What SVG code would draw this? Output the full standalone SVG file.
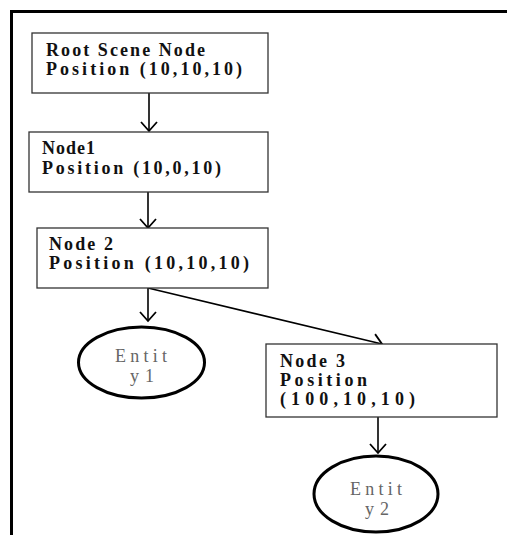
<svg xmlns="http://www.w3.org/2000/svg" width="507" height="535" viewBox="0 0 507 535">
<defs>
<style>
.box{fill:#fff;stroke:#333;stroke-width:1.3}
.ell{fill:#fff;stroke:#000;stroke-width:3}
.t{font-family:"Liberation Serif","DejaVu Serif",serif;font-weight:bold;font-size:18px;fill:#111}
.e{font-family:"Liberation Serif","DejaVu Serif",serif;font-size:18px;fill:#666}
.c{fill:none;stroke:#000;stroke-width:1.6}
.frame{fill:none;stroke:#000;stroke-width:3}
</style>
<marker id="arr" markerUnits="userSpaceOnUse" markerWidth="20" markerHeight="20" viewBox="0 0 20 20" refX="18" refY="10" orient="auto">
<path d="M9,2 L18,10 L9,18" fill="none" stroke="#000" stroke-width="1.8"/>
</marker>
</defs>
<rect width="507" height="535" fill="#fff"/>
<path class="frame" d="M11.5,535 L11.5,11.5 L507,11.5"/>
<g id="connectors">
<line class="c" x1="149" y1="93" x2="149" y2="131" marker-end="url(#arr)"/>
<line class="c" x1="148" y1="192" x2="148" y2="228" marker-end="url(#arr)"/>
<line class="c" x1="148" y1="288" x2="148" y2="321" marker-end="url(#arr)"/>
<line class="c" x1="148" y1="288" x2="382" y2="344" marker-end="url(#arr)"/>
<line class="c" x1="378" y1="417" x2="378" y2="453" marker-end="url(#arr)"/>
</g>
<g id="root">
<rect class="box" x="32" y="33" width="236" height="60"/>
<text class="t" x="46" y="56" textLength="159" lengthAdjust="spacing">Root Scene Node</text>
<text class="t" x="46" y="75" textLength="196" lengthAdjust="spacing">Position (10,10,10)</text>
</g>
<g id="node1">
<rect class="box" x="29" y="132" width="239" height="60"/>
<text class="t" x="42" y="154" textLength="53" lengthAdjust="spacing">Node1</text>
<text class="t" x="42" y="174" textLength="179" lengthAdjust="spacing">Position (10,0,10)</text>
</g>
<g id="node2">
<rect class="box" x="37" y="228" width="231" height="60"/>
<text class="t" x="49" y="250" textLength="64" lengthAdjust="spacing">Node 2</text>
<text class="t" x="49" y="269" textLength="200" lengthAdjust="spacing">Position (10,10,10)</text>
</g>
<g id="entity1">
<ellipse class="ell" cx="141.5" cy="362.5" rx="63" ry="35.5"/>
<text class="e" x="115" y="362" textLength="52" lengthAdjust="spacing">Entit</text>
<text class="e" x="130" y="382" textLength="24" lengthAdjust="spacing">y1</text>
</g>
<g id="node3">
<rect class="box" x="266" y="344" width="231" height="73"/>
<text class="t" x="280" y="367" textLength="65" lengthAdjust="spacing">Node 3</text>
<text class="t" x="280" y="386" textLength="87" lengthAdjust="spacing">Position</text>
<text class="t" x="280" y="405" textLength="135" lengthAdjust="spacing">(100,10,10)</text>
</g>
<g id="entity2">
<ellipse class="ell" cx="376" cy="494" rx="62" ry="38"/>
<text class="e" x="350" y="495" textLength="52" lengthAdjust="spacing">Entit</text>
<text class="e" x="365" y="515" textLength="24" lengthAdjust="spacing">y2</text>
</g>
</svg>
